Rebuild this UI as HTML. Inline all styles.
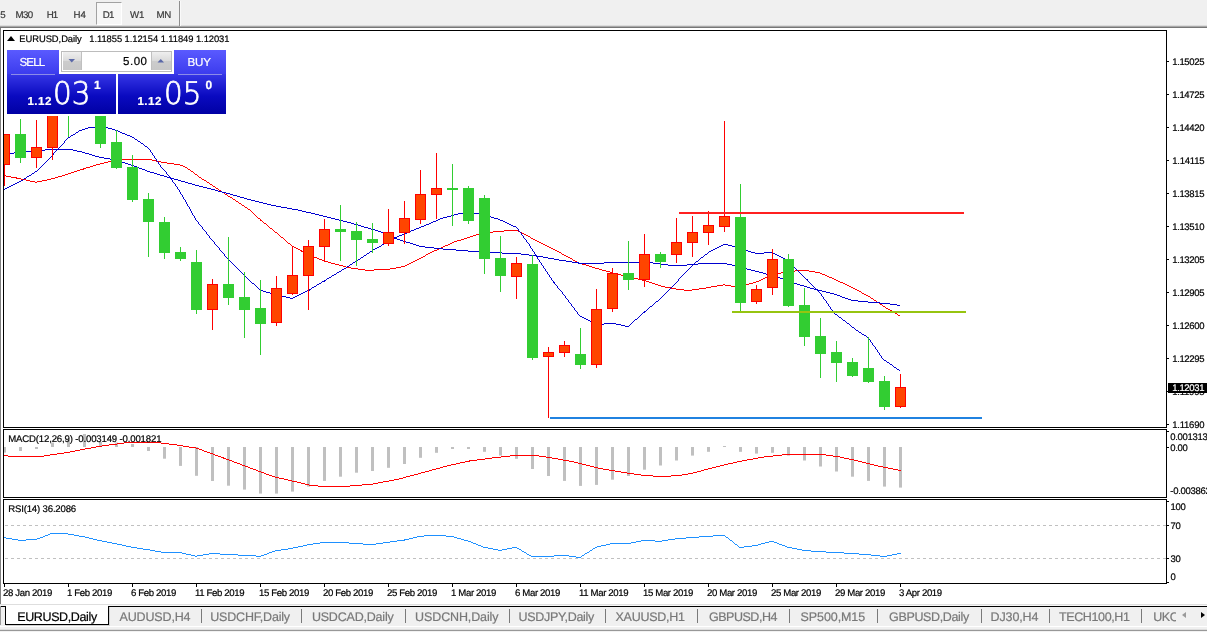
<!DOCTYPE html>
<html><head><meta charset="utf-8"><title>EURUSD,Daily</title>
<style>
html,body{margin:0;padding:0;background:#fff;}
body{width:1207px;height:632px;position:relative;overflow:hidden;font-family:"Liberation Sans",sans-serif;font-size:9.5px;color:#000;text-rendering:geometricPrecision;}
div,span{position:absolute;white-space:nowrap;}
.t{-webkit-text-stroke:0.2px currentColor;}
#tbar{left:0;top:0;width:1207px;height:26px;background:#f0f0f0;}
#tl1{left:0;top:25px;width:1207px;height:1px;background:#dcdcdc;}
#tl2{left:0;top:26px;width:1207px;height:1px;background:#a8a8a8;}
#tl3{left:0;top:27px;width:1207px;height:1px;background:#767676;}
#lgray{left:0;top:28px;width:1px;height:576px;background:#808080;}
#d1{left:96px;top:2px;width:24px;height:21px;border:1px solid #fff;border-left-color:#a2a2a2;border-top-color:#a2a2a2;background:#f7f7f7;}
#vsep{left:179px;top:1px;width:1px;height:25px;background:#8e8e8e;border-right:1px solid #fafafa;}
#tri{left:6.5px;top:36.4px;width:0;height:0;border-left:4.1px solid transparent;border-right:4.1px solid transparent;border-bottom:5px solid #000;}
#bbar{left:0;top:604px;width:1207px;height:28px;background:#f0f0f0;}
#bl0{left:0;top:604px;width:1207px;height:1px;background:#dedede;}
#bl00{left:0;top:605px;width:1207px;height:1px;background:#f6f6f6;}
#bl1{left:0;top:606px;width:1207px;height:1px;background:#000;}
#bl2{left:0;top:625.5px;width:1207px;height:1.6px;background:#fff;}
#bl3{left:0;top:629px;width:1207px;height:3px;background:linear-gradient(#dedede 0,#dedede 33%,#989898 33%,#989898 67%,#f2f2f2 67%);}
#atab{left:6px;top:605px;width:102px;height:19px;background:#fff;}
.tabl{background:#000;}
#ledge{left:0;top:606px;width:1px;height:19px;background:#9a9a9a;}
.sp{top:609px;width:1px;height:14px;background:#7a7a7a;}
#arl{left:1181.5px;top:611.5px;width:0;height:0;border-top:3.5px solid transparent;border-bottom:3.5px solid transparent;border-right:4px solid #9a9a9a;}
#arr{left:1200.8px;top:611.5px;width:0;height:0;border-top:3.5px solid transparent;border-bottom:3.5px solid transparent;border-left:4px solid #000;}
#ukc{left:1153.2px;top:609px;width:23px;height:16px;overflow:hidden;}
#pw{left:4px;top:47px;width:225px;height:69px;background:#fff;}
#sell{left:7px;top:50px;width:52px;height:24px;background:linear-gradient(#5a5aff,#3c3cee);}
#buy{left:174px;top:50px;width:52px;height:24px;background:linear-gradient(#5a5aff,#3c3cee);}
#sl{left:7px;top:74px;width:109px;height:40px;background:linear-gradient(#3636e6,#0a0ac0 55%,#0000a4);}
#bl{left:118px;top:74px;width:108px;height:40px;background:linear-gradient(#3636e6,#0a0ac0 55%,#0000a4);}
.bg{top:74px;color:#fff;font-family:"DejaVu Sans Light","Liberation Sans",sans-serif;font-size:31px;line-height:40px;transform:scaleX(0.95);transform-origin:0 0;-webkit-text-stroke:0.75px #fff;}
.ul{height:1px;background:#8c8ce8;top:74px;}
#spin{left:61px;top:50.5px;width:109px;height:19px;border:1px solid #bcbcbc;background:#fff;}
.sb{top:52px;width:18px;height:18px;background:linear-gradient(#efefef,#dadada 48%,#cccccc 52%,#c8c8c8);border-right:1px solid #c0c0c0;}
#pbox{left:1168px;top:383px;width:39px;height:10px;background:#000;}
</style></head><body>
<div id="tbar"></div><div id="tl1"></div><div id="tl2"></div><div id="tl3"></div><div id="lgray"></div>
<div id="d1"></div><div id="vsep"></div>
<svg id="ch" width="1207" height="632" viewBox="0 0 1207 632" style="position:absolute;left:0;top:0">
<defs><clipPath id="cp"><rect x="4" y="31" width="1162" height="396"/></clipPath></defs>
<g clip-path="url(#cp)">
<path fill="#ff0000" shape-rendering="crispEdges" d="M120 159h32v1h-32zM114 160h6v1h-6zM152 160h4v1h-4zM108 161h6v1h-6zM156 161h5v1h-5zM104 162h4v1h-4zM161 162h6v1h-6zM100 163h4v1h-4zM167 163h7v1h-7zM96 164h4v1h-4zM174 164h6v1h-6zM93 165h3v1h-3zM180 165h3v1h-3zM90 166h3v1h-3zM183 166h2v1h-2zM86 167h4v1h-4zM185 167h2v1h-2zM83 168h3v1h-3zM187 168h1v1h-1zM80 169h4v1h-4zM188 169h2v1h-2zM77 170h3v1h-3zM190 170h1v1h-1zM74 171h3v1h-3zM191 171h2v1h-2zM71 172h3v1h-3zM193 172h1v1h-1zM68 173h3v1h-3zM194 173h1v1h-1zM65 174h3v1h-3zM195 174h2v1h-2zM4 175h2v1h-2zM62 175h3v1h-3zM197 175h1v1h-1zM6 176h5v1h-5zM58 176h4v1h-4zM198 176h1v1h-1zM11 177h6v1h-6zM55 177h3v1h-3zM199 177h2v1h-2zM16 178h5v1h-5zM51 178h4v1h-4zM201 178h1v1h-1zM21 179h5v1h-5zM47 179h4v1h-4zM202 179h2v1h-2zM26 180h4v1h-4zM42 180h5v1h-5zM204 180h2v1h-2zM30 181h5v1h-5zM37 181h5v1h-5zM206 181h1v1h-1zM35 182h2v1h-2zM207 182h2v1h-2zM209 183h1v1h-1zM210 184h2v1h-2zM212 185h1v1h-1zM213 186h2v1h-2zM215 187h1v1h-1zM216 188h2v1h-2zM218 189h1v1h-1zM219 190h2v1h-2zM221 191h1v1h-1zM222 192h2v1h-2zM224 193h1v1h-1zM225 194h2v1h-2zM227 195h1v1h-1zM228 196h2v1h-2zM230 197h2v1h-2zM232 198h1v1h-1zM233 199h2v1h-2zM235 200h1v1h-1zM236 201h2v1h-2zM238 202h1v1h-1zM239 203h2v1h-2zM241 204h1v1h-1zM242 205h2v1h-2zM244 206h1v1h-1zM245 207h2v1h-2zM247 208h1v1h-1zM248 209h2v1h-2zM250 210h1v1h-1zM251 211h1v1h-1zM252 212h1v1h-1zM253 213h1v1h-1zM254 214h1v1h-1zM255 215h1v1h-1zM256 216h1v1h-1zM257 217h1v1h-1zM258 218h2v1h-2zM260 219h1v1h-1zM260 220h2v1h-2zM262 221h1v1h-1zM263 222h1v1h-1zM264 223h2v1h-2zM266 224h1v1h-1zM267 225h1v1h-1zM268 226h1v1h-1zM269 227h1v1h-1zM270 228h2v1h-2zM272 229h1v1h-1zM273 230h1v1h-1zM504 230h14v1h-14zM274 231h1v1h-1zM493 231h11v1h-11zM518 231h2v1h-2zM275 232h2v1h-2zM486 232h7v1h-7zM520 232h2v1h-2zM277 233h1v1h-1zM479 233h7v1h-7zM522 233h2v1h-2zM278 234h1v1h-1zM476 234h4v1h-4zM524 234h2v1h-2zM279 235h1v1h-1zM473 235h3v1h-3zM526 235h2v1h-2zM280 236h1v1h-1zM470 236h3v1h-3zM528 236h2v1h-2zM281 237h2v1h-2zM467 237h3v1h-3zM530 237h1v1h-1zM283 238h1v1h-1zM464 238h3v1h-3zM531 238h2v1h-2zM284 239h1v1h-1zM461 239h3v1h-3zM533 239h2v1h-2zM285 240h1v1h-1zM457 240h4v1h-4zM535 240h2v1h-2zM286 241h1v1h-1zM454 241h3v1h-3zM537 241h2v1h-2zM287 242h1v1h-1zM452 242h2v1h-2zM539 242h2v1h-2zM288 243h2v1h-2zM450 243h2v1h-2zM541 243h2v1h-2zM290 244h1v1h-1zM448 244h2v1h-2zM543 244h2v1h-2zM291 245h1v1h-1zM445 245h3v1h-3zM545 245h2v1h-2zM292 246h2v1h-2zM443 246h2v1h-2zM547 246h2v1h-2zM294 247h2v1h-2zM441 247h2v1h-2zM549 247h2v1h-2zM296 248h2v1h-2zM439 248h2v1h-2zM551 248h2v1h-2zM298 249h2v1h-2zM437 249h2v1h-2zM553 249h2v1h-2zM300 250h2v1h-2zM434 250h3v1h-3zM555 250h2v1h-2zM301 251h3v1h-3zM432 251h2v1h-2zM557 251h2v1h-2zM304 252h2v1h-2zM430 252h2v1h-2zM559 252h2v1h-2zM306 253h2v1h-2zM428 253h2v1h-2zM561 253h1v1h-1zM308 254h2v1h-2zM426 254h2v1h-2zM562 254h2v1h-2zM310 255h2v1h-2zM425 255h1v1h-1zM564 255h2v1h-2zM312 256h2v1h-2zM423 256h2v1h-2zM566 256h2v1h-2zM314 257h3v1h-3zM421 257h2v1h-2zM568 257h2v1h-2zM317 258h2v1h-2zM419 258h2v1h-2zM570 258h2v1h-2zM319 259h3v1h-3zM417 259h2v1h-2zM572 259h1v1h-1zM322 260h2v1h-2zM415 260h2v1h-2zM573 260h2v1h-2zM324 261h4v1h-4zM413 261h2v1h-2zM575 261h2v1h-2zM328 262h3v1h-3zM411 262h2v1h-2zM577 262h2v1h-2zM331 263h4v1h-4zM409 263h2v1h-2zM578 263h4v1h-4zM335 264h4v1h-4zM407 264h2v1h-2zM582 264h4v1h-4zM339 265h4v1h-4zM405 265h2v1h-2zM586 265h3v1h-3zM343 266h3v1h-3zM401 266h4v1h-4zM589 266h3v1h-3zM346 267h5v1h-5zM396 267h5v1h-5zM592 267h3v1h-3zM351 268h7v1h-7zM390 268h6v1h-6zM595 268h4v1h-4zM358 269h7v1h-7zM374 269h16v1h-16zM599 269h3v1h-3zM365 270h9v1h-9zM602 270h4v1h-4zM795 270h14v1h-14zM606 271h4v1h-4zM788 271h7v1h-7zM809 271h6v1h-6zM610 272h3v1h-3zM781 272h7v1h-7zM815 272h5v1h-5zM613 273h4v1h-4zM777 273h4v1h-4zM820 273h2v1h-2zM617 274h4v1h-4zM774 274h3v1h-3zM822 274h3v1h-3zM621 275h5v1h-5zM770 275h4v1h-4zM825 275h2v1h-2zM626 276h4v1h-4zM768 276h2v1h-2zM827 276h2v1h-2zM630 277h4v1h-4zM765 277h3v1h-3zM829 277h3v1h-3zM634 278h4v1h-4zM763 278h2v1h-2zM832 278h2v1h-2zM638 279h4v1h-4zM761 279h2v1h-2zM834 279h2v1h-2zM642 280h4v1h-4zM759 280h2v1h-2zM836 280h2v1h-2zM646 281h3v1h-3zM756 281h3v1h-3zM838 281h2v1h-2zM649 282h3v1h-3zM753 282h3v1h-3zM840 282h3v1h-3zM652 283h3v1h-3zM749 283h4v1h-4zM843 283h2v1h-2zM655 284h3v1h-3zM723 284h2v1h-2zM746 284h3v1h-3zM845 284h2v1h-2zM658 285h3v1h-3zM717 285h6v1h-6zM725 285h6v1h-6zM735 285h11v1h-11zM847 285h2v1h-2zM661 286h4v1h-4zM711 286h6v1h-6zM731 286h4v1h-4zM849 286h2v1h-2zM665 287h6v1h-6zM706 287h5v1h-5zM851 287h2v1h-2zM671 288h5v1h-5zM699 288h7v1h-7zM853 288h2v1h-2zM676 289h8v1h-8zM692 289h7v1h-7zM855 289h2v1h-2zM684 290h8v1h-8zM857 290h2v1h-2zM859 291h2v1h-2zM861 292h1v1h-1zM862 293h2v1h-2zM864 294h2v1h-2zM866 295h2v1h-2zM868 296h2v1h-2zM870 297h1v1h-1zM871 298h2v1h-2zM873 299h1v1h-1zM874 300h2v1h-2zM876 301h1v1h-1zM877 302h2v1h-2zM879 303h1v1h-1zM880 304h2v1h-2zM882 305h1v1h-1zM883 306h2v1h-2zM885 307h1v1h-1zM886 308h2v1h-2zM888 309h2v1h-2zM890 310h2v1h-2zM892 311h1v1h-1zM893 312h2v1h-2zM895 313h2v1h-2zM897 314h1v1h-1zM898 315h2v1h-2z"/>
<path fill="#0000d0" shape-rendering="crispEdges" d="M45 149h28v1h-28zM31 150h14v1h-14zM73 150h4v1h-4zM21 151h10v1h-10zM77 151h5v1h-5zM14 152h7v1h-7zM82 152h3v1h-3zM7 153h7v1h-7zM85 153h4v1h-4zM4 154h3v1h-3zM89 154h3v1h-3zM92 155h3v1h-3zM95 156h4v1h-4zM99 157h5v1h-5zM104 158h6v1h-6zM110 159h4v1h-4zM114 160h4v1h-4zM118 161h4v1h-4zM122 162h3v1h-3zM125 163h3v1h-3zM128 164h3v1h-3zM131 165h3v1h-3zM134 166h3v1h-3zM137 167h2v1h-2zM139 168h3v1h-3zM142 169h3v1h-3zM145 170h2v1h-2zM147 171h3v1h-3zM150 172h4v1h-4zM154 173h3v1h-3zM157 174h3v1h-3zM160 175h4v1h-4zM164 176h3v1h-3zM167 177h4v1h-4zM171 178h3v1h-3zM174 179h4v1h-4zM178 180h3v1h-3zM181 181h4v1h-4zM185 182h3v1h-3zM188 183h4v1h-4zM192 184h3v1h-3zM195 185h4v1h-4zM199 186h4v1h-4zM203 187h4v1h-4zM207 188h4v1h-4zM211 189h4v1h-4zM215 190h3v1h-3zM218 191h4v1h-4zM222 192h4v1h-4zM226 193h4v1h-4zM230 194h3v1h-3zM233 195h4v1h-4zM237 196h3v1h-3zM240 197h4v1h-4zM244 198h3v1h-3zM247 199h4v1h-4zM251 200h4v1h-4zM255 201h4v1h-4zM259 202h4v1h-4zM263 203h4v1h-4zM267 204h4v1h-4zM271 205h5v1h-5zM276 206h5v1h-5zM281 207h6v1h-6zM287 208h5v1h-5zM292 209h6v1h-6zM298 210h4v1h-4zM302 211h4v1h-4zM306 212h5v1h-5zM311 213h4v1h-4zM315 214h4v1h-4zM319 215h4v1h-4zM323 216h4v1h-4zM327 217h4v1h-4zM331 218h4v1h-4zM335 219h4v1h-4zM339 220h4v1h-4zM343 221h4v1h-4zM347 222h4v1h-4zM351 223h3v1h-3zM354 224h4v1h-4zM358 225h3v1h-3zM361 226h3v1h-3zM364 227h4v1h-4zM368 228h3v1h-3zM371 229h4v1h-4zM375 230h3v1h-3zM378 231h3v1h-3zM381 232h3v1h-3zM384 233h2v1h-2zM386 234h2v1h-2zM388 235h2v1h-2zM390 236h3v1h-3zM393 237h2v1h-2zM395 238h2v1h-2zM397 239h3v1h-3zM400 240h3v1h-3zM403 241h3v1h-3zM406 242h4v1h-4zM410 243h3v1h-3zM413 244h3v1h-3zM416 245h3v1h-3zM419 246h6v1h-6zM425 247h9v1h-9zM434 248h9v1h-9zM443 249h13v1h-13zM456 250h12v1h-12zM468 251h13v1h-13zM481 252h21v1h-21zM502 253h19v1h-19zM521 254h8v1h-8zM529 255h8v1h-8zM537 256h6v1h-6zM543 257h5v1h-5zM548 258h6v1h-6zM554 259h5v1h-5zM559 260h7v1h-7zM566 261h6v1h-6zM572 262h7v1h-7zM604 262h49v1h-49zM578 263h26v1h-26zM653 263h8v1h-8zM698 263h29v1h-29zM661 264h7v1h-7zM687 264h11v1h-11zM727 264h5v1h-5zM668 265h19v1h-19zM732 265h5v1h-5zM737 266h3v1h-3zM740 267h3v1h-3zM743 268h4v1h-4zM747 269h4v1h-4zM751 270h4v1h-4zM755 271h4v1h-4zM759 272h4v1h-4zM763 273h3v1h-3zM766 274h4v1h-4zM770 275h3v1h-3zM773 276h4v1h-4zM777 277h3v1h-3zM780 278h3v1h-3zM783 279h3v1h-3zM786 280h2v1h-2zM788 281h3v1h-3zM791 282h3v1h-3zM794 283h3v1h-3zM797 284h3v1h-3zM800 285h4v1h-4zM804 286h3v1h-3zM807 287h3v1h-3zM810 288h4v1h-4zM814 289h4v1h-4zM818 290h4v1h-4zM822 291h4v1h-4zM826 292h4v1h-4zM830 293h4v1h-4zM834 294h3v1h-3zM837 295h3v1h-3zM840 296h2v1h-2zM842 297h3v1h-3zM845 298h3v1h-3zM848 299h3v1h-3zM851 300h7v1h-7zM858 301h10v1h-10zM868 302h12v1h-12zM880 303h10v1h-10zM890 304h7v1h-7zM897 305h3v1h-3z"/>
<path fill="#0000d0" shape-rendering="crispEdges" d="M88 127h20v1h-20zM85 128h3v1h-3zM108 128h4v1h-4zM82 129h3v1h-3zM112 129h3v1h-3zM79 130h3v1h-3zM115 130h3v1h-3zM78 131h1v1h-1zM118 131h2v1h-2zM76 132h2v1h-2zM120 132h2v1h-2zM75 133h1v1h-1zM122 133h3v1h-3zM73 134h2v1h-2zM125 134h2v1h-2zM71 135h2v1h-2zM127 135h3v1h-3zM70 136h1v1h-1zM130 136h2v1h-2zM68 137h2v1h-2zM132 137h2v1h-2zM67 138h1v1h-1zM134 138h1v1h-1zM66 139h1v1h-1zM135 139h2v1h-2zM65 140h1v1h-1zM137 140h1v1h-1zM64 141h1v1h-1zM138 141h2v1h-2zM64 142h1v1h-1zM140 142h1v1h-1zM63 143h1v1h-1zM141 143h2v1h-2zM62 144h1v1h-1zM143 144h1v1h-1zM61 145h1v1h-1zM144 145h1v1h-1zM60 146h1v1h-1zM145 146h2v1h-2zM59 147h1v1h-1zM147 147h1v1h-1zM58 148h1v1h-1zM148 148h1v1h-1zM57 149h1v1h-1zM149 149h1v1h-1zM56 150h1v1h-1zM150 150h1v1h-1zM55 151h1v1h-1zM150 151h1v1h-1zM54 152h1v1h-1zM151 152h1v1h-1zM53 153h1v1h-1zM152 153h1v1h-1zM53 154h1v1h-1zM152 154h1v1h-1zM52 155h1v1h-1zM153 155h1v1h-1zM51 156h1v1h-1zM154 156h1v1h-1zM50 157h1v1h-1zM154 157h1v1h-1zM49 158h1v1h-1zM155 158h1v1h-1zM48 159h1v1h-1zM156 159h1v1h-1zM47 160h1v1h-1zM156 160h1v1h-1zM46 161h1v1h-1zM157 161h1v1h-1zM45 162h1v1h-1zM158 162h1v1h-1zM44 163h1v1h-1zM158 163h1v1h-1zM43 164h1v1h-1zM159 164h1v1h-1zM42 165h1v1h-1zM160 165h1v1h-1zM41 166h1v1h-1zM160 166h1v1h-1zM40 167h1v1h-1zM161 167h1v1h-1zM39 168h1v1h-1zM162 168h1v1h-1zM38 169h1v1h-1zM163 169h1v1h-1zM37 170h1v1h-1zM164 170h1v1h-1zM35 171h2v1h-2zM165 171h1v1h-1zM34 172h1v1h-1zM166 172h1v1h-1zM32 173h2v1h-2zM166 173h1v1h-1zM31 174h1v1h-1zM167 174h1v1h-1zM29 175h2v1h-2zM168 175h1v1h-1zM27 176h2v1h-2zM169 176h1v1h-1zM26 177h1v1h-1zM170 177h1v1h-1zM24 178h2v1h-2zM170 178h1v1h-1zM23 179h1v1h-1zM171 179h1v1h-1zM21 180h2v1h-2zM172 180h1v1h-1zM19 181h2v1h-2zM172 181h1v1h-1zM17 182h2v1h-2zM173 182h1v1h-1zM15 183h2v1h-2zM174 183h1v1h-1zM13 184h2v1h-2zM175 184h1v1h-1zM11 185h2v1h-2zM175 185h1v1h-1zM9 186h2v1h-2zM176 186h1v1h-1zM7 187h2v1h-2zM177 187h1v1h-1zM5 188h2v1h-2zM177 188h1v1h-1zM4 189h1v1h-1zM178 189h1v1h-1zM179 190h1v1h-1zM179 191h1v1h-1zM180 192h1v1h-1zM180 193h1v1h-1zM181 194h1v1h-1zM182 195h1v1h-1zM182 196h1v1h-1zM183 197h1v1h-1zM183 198h1v1h-1zM184 199h1v1h-1zM185 200h1v1h-1zM185 201h1v1h-1zM186 202h1v1h-1zM186 203h1v1h-1zM187 204h1v1h-1zM187 205h1v1h-1zM188 206h1v1h-1zM189 207h1v1h-1zM189 208h1v1h-1zM190 209h1v1h-1zM190 210h1v1h-1zM191 211h1v1h-1zM191 212h1v1h-1zM192 213h1v1h-1zM458 213h24v1h-24zM192 214h1v1h-1zM454 214h4v1h-4zM482 214h3v1h-3zM193 215h1v1h-1zM451 215h3v1h-3zM485 215h3v1h-3zM194 216h1v1h-1zM447 216h4v1h-4zM488 216h3v1h-3zM194 217h1v1h-1zM443 217h4v1h-4zM491 217h3v1h-3zM195 218h1v1h-1zM440 218h3v1h-3zM494 218h4v1h-4zM195 219h1v1h-1zM438 219h2v1h-2zM498 219h2v1h-2zM196 220h1v1h-1zM436 220h2v1h-2zM500 220h3v1h-3zM197 221h1v1h-1zM433 221h3v1h-3zM503 221h2v1h-2zM198 222h1v1h-1zM431 222h2v1h-2zM505 222h2v1h-2zM198 223h1v1h-1zM429 223h2v1h-2zM507 223h2v1h-2zM199 224h1v1h-1zM426 224h3v1h-3zM509 224h2v1h-2zM200 225h1v1h-1zM424 225h2v1h-2zM511 225h2v1h-2zM201 226h1v1h-1zM421 226h3v1h-3zM513 226h3v1h-3zM202 227h1v1h-1zM419 227h2v1h-2zM516 227h1v1h-1zM202 228h1v1h-1zM416 228h3v1h-3zM517 228h1v1h-1zM203 229h1v1h-1zM414 229h2v1h-2zM518 229h1v1h-1zM204 230h1v1h-1zM411 230h3v1h-3zM518 230h1v1h-1zM205 231h1v1h-1zM409 231h2v1h-2zM519 231h1v1h-1zM206 232h1v1h-1zM407 232h2v1h-2zM520 232h1v1h-1zM206 233h1v1h-1zM404 233h3v1h-3zM521 233h1v1h-1zM207 234h1v1h-1zM402 234h2v1h-2zM521 234h1v1h-1zM208 235h1v1h-1zM399 235h3v1h-3zM522 235h1v1h-1zM209 236h1v1h-1zM397 236h2v1h-2zM523 236h1v1h-1zM209 237h1v1h-1zM395 237h2v1h-2zM523 237h1v1h-1zM210 238h1v1h-1zM393 238h2v1h-2zM524 238h1v1h-1zM211 239h1v1h-1zM392 239h1v1h-1zM525 239h1v1h-1zM212 240h1v1h-1zM390 240h2v1h-2zM526 240h1v1h-1zM213 241h1v1h-1zM388 241h2v1h-2zM526 241h1v1h-1zM214 242h1v1h-1zM386 242h2v1h-2zM527 242h1v1h-1zM214 243h1v1h-1zM384 243h2v1h-2zM528 243h1v1h-1zM215 244h1v1h-1zM382 244h2v1h-2zM529 244h1v1h-1zM723 244h5v1h-5zM216 245h1v1h-1zM381 245h1v1h-1zM529 245h1v1h-1zM721 245h2v1h-2zM728 245h4v1h-4zM217 246h1v1h-1zM379 246h2v1h-2zM530 246h1v1h-1zM719 246h2v1h-2zM732 246h4v1h-4zM218 247h1v1h-1zM377 247h2v1h-2zM530 247h1v1h-1zM717 247h2v1h-2zM736 247h3v1h-3zM219 248h1v1h-1zM375 248h2v1h-2zM531 248h1v1h-1zM715 248h2v1h-2zM739 248h3v1h-3zM219 249h1v1h-1zM373 249h2v1h-2zM532 249h1v1h-1zM713 249h2v1h-2zM742 249h3v1h-3zM220 250h1v1h-1zM372 250h1v1h-1zM532 250h1v1h-1zM711 250h2v1h-2zM745 250h3v1h-3zM221 251h1v1h-1zM370 251h2v1h-2zM533 251h1v1h-1zM709 251h2v1h-2zM748 251h3v1h-3zM222 252h1v1h-1zM369 252h1v1h-1zM534 252h1v1h-1zM708 252h1v1h-1zM751 252h4v1h-4zM764 252h9v1h-9zM223 253h1v1h-1zM367 253h2v1h-2zM534 253h1v1h-1zM707 253h1v1h-1zM755 253h9v1h-9zM773 253h2v1h-2zM224 254h1v1h-1zM366 254h1v1h-1zM535 254h1v1h-1zM705 254h2v1h-2zM775 254h2v1h-2zM224 255h1v1h-1zM364 255h2v1h-2zM536 255h1v1h-1zM704 255h1v1h-1zM777 255h2v1h-2zM225 256h1v1h-1zM363 256h1v1h-1zM536 256h1v1h-1zM703 256h1v1h-1zM779 256h2v1h-2zM226 257h1v1h-1zM361 257h2v1h-2zM537 257h1v1h-1zM701 257h2v1h-2zM781 257h2v1h-2zM227 258h1v1h-1zM360 258h1v1h-1zM537 258h1v1h-1zM700 258h1v1h-1zM783 258h2v1h-2zM228 259h1v1h-1zM358 259h2v1h-2zM538 259h1v1h-1zM699 259h1v1h-1zM785 259h1v1h-1zM229 260h1v1h-1zM357 260h1v1h-1zM539 260h1v1h-1zM698 260h1v1h-1zM786 260h1v1h-1zM230 261h1v1h-1zM355 261h2v1h-2zM539 261h1v1h-1zM696 261h2v1h-2zM787 261h1v1h-1zM231 262h1v1h-1zM353 262h2v1h-2zM540 262h1v1h-1zM695 262h1v1h-1zM788 262h2v1h-2zM232 263h1v1h-1zM352 263h1v1h-1zM541 263h1v1h-1zM694 263h1v1h-1zM790 263h1v1h-1zM233 264h1v1h-1zM350 264h2v1h-2zM541 264h1v1h-1zM693 264h1v1h-1zM791 264h1v1h-1zM234 265h1v1h-1zM349 265h1v1h-1zM542 265h1v1h-1zM692 265h1v1h-1zM792 265h1v1h-1zM235 266h1v1h-1zM347 266h2v1h-2zM543 266h1v1h-1zM691 266h1v1h-1zM793 266h1v1h-1zM236 267h1v1h-1zM346 267h1v1h-1zM543 267h1v1h-1zM690 267h1v1h-1zM794 267h1v1h-1zM237 268h1v1h-1zM344 268h2v1h-2zM544 268h1v1h-1zM689 268h1v1h-1zM795 268h1v1h-1zM238 269h1v1h-1zM342 269h2v1h-2zM545 269h1v1h-1zM688 269h1v1h-1zM796 269h1v1h-1zM239 270h1v1h-1zM341 270h1v1h-1zM545 270h1v1h-1zM687 270h1v1h-1zM797 270h1v1h-1zM240 271h1v1h-1zM339 271h2v1h-2zM546 271h1v1h-1zM686 271h1v1h-1zM798 271h1v1h-1zM241 272h1v1h-1zM337 272h2v1h-2zM547 272h1v1h-1zM685 272h1v1h-1zM799 272h1v1h-1zM242 273h1v1h-1zM336 273h1v1h-1zM547 273h1v1h-1zM684 273h1v1h-1zM800 273h1v1h-1zM243 274h1v1h-1zM334 274h2v1h-2zM548 274h1v1h-1zM683 274h1v1h-1zM801 274h1v1h-1zM244 275h1v1h-1zM332 275h2v1h-2zM549 275h1v1h-1zM682 275h1v1h-1zM802 275h1v1h-1zM244 276h2v1h-2zM331 276h1v1h-1zM549 276h1v1h-1zM681 276h1v1h-1zM803 276h1v1h-1zM246 277h1v1h-1zM329 277h2v1h-2zM550 277h1v1h-1zM680 277h1v1h-1zM804 277h1v1h-1zM247 278h1v1h-1zM327 278h2v1h-2zM551 278h1v1h-1zM679 278h1v1h-1zM805 278h1v1h-1zM248 279h1v1h-1zM326 279h1v1h-1zM551 279h1v1h-1zM678 279h1v1h-1zM806 279h2v1h-2zM249 280h1v1h-1zM324 280h2v1h-2zM552 280h1v1h-1zM678 280h1v1h-1zM807 280h1v1h-1zM250 281h1v1h-1zM322 281h3v1h-3zM553 281h1v1h-1zM677 281h1v1h-1zM808 281h1v1h-1zM251 282h1v1h-1zM321 282h1v1h-1zM553 282h2v1h-2zM676 282h1v1h-1zM809 282h1v1h-1zM252 283h2v1h-2zM319 283h2v1h-2zM554 283h1v1h-1zM675 283h1v1h-1zM810 283h1v1h-1zM254 284h1v1h-1zM317 284h2v1h-2zM555 284h1v1h-1zM674 284h1v1h-1zM811 284h1v1h-1zM255 285h1v1h-1zM316 285h1v1h-1zM556 285h1v1h-1zM673 285h1v1h-1zM812 285h1v1h-1zM256 286h1v1h-1zM314 286h2v1h-2zM557 286h1v1h-1zM672 286h1v1h-1zM813 286h1v1h-1zM257 287h1v1h-1zM312 287h2v1h-2zM557 287h1v1h-1zM671 287h1v1h-1zM814 287h1v1h-1zM258 288h1v1h-1zM311 288h1v1h-1zM558 288h1v1h-1zM670 288h1v1h-1zM815 288h1v1h-1zM259 289h1v1h-1zM309 289h2v1h-2zM559 289h1v1h-1zM669 289h1v1h-1zM816 289h1v1h-1zM260 290h3v1h-3zM307 290h3v1h-3zM560 290h1v1h-1zM668 290h1v1h-1zM817 290h1v1h-1zM263 291h3v1h-3zM305 291h2v1h-2zM561 291h1v1h-1zM667 291h1v1h-1zM818 291h1v1h-1zM266 292h4v1h-4zM303 292h2v1h-2zM562 292h1v1h-1zM666 292h1v1h-1zM819 292h1v1h-1zM270 293h3v1h-3zM301 293h2v1h-2zM562 293h1v1h-1zM665 293h1v1h-1zM820 293h1v1h-1zM273 294h4v1h-4zM299 294h2v1h-2zM563 294h1v1h-1zM664 294h1v1h-1zM821 294h1v1h-1zM277 295h5v1h-5zM297 295h2v1h-2zM564 295h1v1h-1zM663 295h1v1h-1zM821 295h1v1h-1zM282 296h4v1h-4zM295 296h2v1h-2zM565 296h1v1h-1zM662 296h1v1h-1zM822 296h1v1h-1zM286 297h4v1h-4zM293 297h2v1h-2zM565 297h1v1h-1zM661 297h1v1h-1zM823 297h1v1h-1zM290 298h3v1h-3zM566 298h1v1h-1zM660 298h1v1h-1zM823 298h1v1h-1zM567 299h1v1h-1zM659 299h1v1h-1zM824 299h1v1h-1zM568 300h1v1h-1zM658 300h1v1h-1zM825 300h1v1h-1zM568 301h1v1h-1zM656 301h2v1h-2zM826 301h1v1h-1zM569 302h1v1h-1zM655 302h1v1h-1zM826 302h1v1h-1zM570 303h1v1h-1zM654 303h1v1h-1zM827 303h1v1h-1zM571 304h1v1h-1zM653 304h1v1h-1zM828 304h1v1h-1zM571 305h1v1h-1zM652 305h1v1h-1zM828 305h1v1h-1zM572 306h1v1h-1zM650 306h2v1h-2zM829 306h1v1h-1zM573 307h1v1h-1zM649 307h1v1h-1zM830 307h1v1h-1zM574 308h1v1h-1zM648 308h1v1h-1zM830 308h1v1h-1zM574 309h1v1h-1zM647 309h1v1h-1zM831 309h1v1h-1zM575 310h1v1h-1zM646 310h1v1h-1zM832 310h1v1h-1zM576 311h1v1h-1zM644 311h2v1h-2zM833 311h1v1h-1zM577 312h1v1h-1zM643 312h2v1h-2zM833 312h1v1h-1zM577 313h1v1h-1zM642 313h1v1h-1zM834 313h1v1h-1zM578 314h1v1h-1zM641 314h1v1h-1zM835 314h2v1h-2zM579 315h1v1h-1zM640 315h1v1h-1zM837 315h1v1h-1zM580 316h2v1h-2zM639 316h1v1h-1zM838 316h1v1h-1zM582 317h2v1h-2zM638 317h1v1h-1zM839 317h2v1h-2zM584 318h2v1h-2zM637 318h1v1h-1zM841 318h1v1h-1zM586 319h2v1h-2zM635 319h2v1h-2zM842 319h1v1h-1zM588 320h2v1h-2zM634 320h1v1h-1zM843 320h2v1h-2zM590 321h2v1h-2zM633 321h1v1h-1zM845 321h1v1h-1zM592 322h4v1h-4zM632 322h1v1h-1zM846 322h1v1h-1zM596 323h5v1h-5zM604 323h12v1h-12zM631 323h1v1h-1zM847 323h2v1h-2zM601 324h3v1h-3zM616 324h5v1h-5zM630 324h1v1h-1zM849 324h1v1h-1zM621 325h4v1h-4zM629 325h1v1h-1zM850 325h1v1h-1zM625 326h4v1h-4zM851 326h1v1h-1zM852 327h2v1h-2zM854 328h1v1h-1zM855 329h1v1h-1zM856 330h2v1h-2zM858 331h1v1h-1zM859 332h2v1h-2zM861 333h1v1h-1zM862 334h2v1h-2zM864 335h2v1h-2zM866 336h1v1h-1zM867 337h2v1h-2zM868 338h1v1h-1zM869 339h1v1h-1zM870 340h1v1h-1zM870 341h1v1h-1zM871 342h1v1h-1zM872 343h1v1h-1zM872 344h1v1h-1zM873 345h1v1h-1zM874 346h1v1h-1zM875 347h1v1h-1zM875 348h1v1h-1zM876 349h1v1h-1zM877 350h1v1h-1zM877 351h1v1h-1zM878 352h1v1h-1zM879 353h1v1h-1zM879 354h1v1h-1zM880 355h1v1h-1zM881 356h1v1h-1zM881 357h1v1h-1zM882 358h1v1h-1zM883 359h1v1h-1zM884 360h2v1h-2zM886 361h1v1h-1zM887 362h2v1h-2zM889 363h1v1h-1zM890 364h2v1h-2zM892 365h1v1h-1zM893 366h1v1h-1zM894 367h2v1h-2zM896 368h1v1h-1zM897 369h2v1h-2zM899 370h1v1h-1z"/>
<rect x="4" y="134.0" width="1" height="52.0" fill="#FF0000"/>
<rect x="-0.5" y="134.5" width="10" height="30.0" fill="#FF4500" stroke="#FF0000" stroke-width="1"/>
<rect x="20" y="119.0" width="1" height="44.0" fill="#32CD32"/>
<rect x="15" y="134.0" width="11" height="24.0" fill="#32CD32"/>
<rect x="36" y="120.0" width="1" height="48.0" fill="#FF0000"/>
<rect x="31.5" y="147.5" width="10" height="10.0" fill="#FF4500" stroke="#FF0000" stroke-width="1"/>
<rect x="52" y="100.0" width="1" height="60.0" fill="#FF0000"/>
<rect x="47.5" y="100.5" width="10" height="47.0" fill="#FF4500" stroke="#FF0000" stroke-width="1"/>
<rect x="68" y="90.0" width="1" height="47.0" fill="#32CD32"/>
<rect x="63" y="92.0" width="11" height="18.0" fill="#32CD32"/>
<rect x="84" y="70.0" width="1" height="34.0" fill="#32CD32"/>
<rect x="79" y="75.0" width="11" height="25.0" fill="#32CD32"/>
<rect x="100" y="95.0" width="1" height="53.0" fill="#32CD32"/>
<rect x="95" y="100.0" width="11" height="44.0" fill="#32CD32"/>
<rect x="116" y="130.0" width="1" height="39.0" fill="#32CD32"/>
<rect x="111" y="142.0" width="11" height="26.0" fill="#32CD32"/>
<rect x="132" y="155.0" width="1" height="47.0" fill="#32CD32"/>
<rect x="127" y="167.0" width="11" height="33.0" fill="#32CD32"/>
<rect x="148" y="193.0" width="1" height="64.0" fill="#32CD32"/>
<rect x="143" y="199.0" width="11" height="23.0" fill="#32CD32"/>
<rect x="164" y="217.0" width="1" height="42.0" fill="#32CD32"/>
<rect x="159" y="222.0" width="11" height="31.0" fill="#32CD32"/>
<rect x="180" y="247.0" width="1" height="14.0" fill="#32CD32"/>
<rect x="175" y="252.0" width="11" height="7.0" fill="#32CD32"/>
<rect x="196" y="250.0" width="1" height="64.0" fill="#32CD32"/>
<rect x="191" y="262.0" width="11" height="48.0" fill="#32CD32"/>
<rect x="212" y="279.0" width="1" height="51.0" fill="#FF0000"/>
<rect x="207.5" y="284.5" width="10" height="25.0" fill="#FF4500" stroke="#FF0000" stroke-width="1"/>
<rect x="228" y="237.0" width="1" height="68.0" fill="#32CD32"/>
<rect x="223" y="284.0" width="11" height="14.0" fill="#32CD32"/>
<rect x="244" y="272.0" width="1" height="66.0" fill="#32CD32"/>
<rect x="239" y="297.0" width="11" height="13.0" fill="#32CD32"/>
<rect x="260" y="280.0" width="1" height="75.0" fill="#32CD32"/>
<rect x="255" y="308.0" width="11" height="16.0" fill="#32CD32"/>
<rect x="276" y="276.0" width="1" height="50.0" fill="#FF0000"/>
<rect x="271.5" y="288.5" width="10" height="34.0" fill="#FF4500" stroke="#FF0000" stroke-width="1"/>
<rect x="292" y="246.0" width="1" height="49.0" fill="#FF0000"/>
<rect x="287.5" y="275.5" width="10" height="18.0" fill="#FF4500" stroke="#FF0000" stroke-width="1"/>
<rect x="308" y="240.0" width="1" height="70.0" fill="#FF0000"/>
<rect x="303.5" y="246.5" width="10" height="29.0" fill="#FF4500" stroke="#FF0000" stroke-width="1"/>
<rect x="324" y="219.0" width="1" height="42.0" fill="#FF0000"/>
<rect x="319.5" y="229.5" width="10" height="17.0" fill="#FF4500" stroke="#FF0000" stroke-width="1"/>
<rect x="340" y="205.0" width="1" height="56.0" fill="#32CD32"/>
<rect x="335" y="229.0" width="11" height="3.0" fill="#32CD32"/>
<rect x="356" y="222.0" width="1" height="44.0" fill="#32CD32"/>
<rect x="351" y="231.0" width="11" height="9.0" fill="#32CD32"/>
<rect x="372" y="223.0" width="1" height="30.0" fill="#32CD32"/>
<rect x="367" y="239.0" width="11" height="4.0" fill="#32CD32"/>
<rect x="388" y="209.0" width="1" height="37.0" fill="#FF0000"/>
<rect x="383.5" y="232.5" width="10" height="11.0" fill="#FF4500" stroke="#FF0000" stroke-width="1"/>
<rect x="404" y="201.0" width="1" height="43.0" fill="#FF0000"/>
<rect x="399.5" y="218.5" width="10" height="14.0" fill="#FF4500" stroke="#FF0000" stroke-width="1"/>
<rect x="420" y="170.0" width="1" height="54.0" fill="#FF0000"/>
<rect x="415.5" y="194.5" width="10" height="25.0" fill="#FF4500" stroke="#FF0000" stroke-width="1"/>
<rect x="436" y="153.0" width="1" height="66.0" fill="#FF0000"/>
<rect x="431.5" y="188.5" width="10" height="6.0" fill="#FF4500" stroke="#FF0000" stroke-width="1"/>
<rect x="452" y="164.0" width="1" height="62.0" fill="#32CD32"/>
<rect x="447" y="188.0" width="11" height="2.0" fill="#32CD32"/>
<rect x="468" y="186.0" width="1" height="38.0" fill="#32CD32"/>
<rect x="463" y="188.0" width="11" height="33.0" fill="#32CD32"/>
<rect x="484" y="195.0" width="1" height="79.0" fill="#32CD32"/>
<rect x="479" y="198.0" width="11" height="61.0" fill="#32CD32"/>
<rect x="500" y="236.0" width="1" height="56.0" fill="#32CD32"/>
<rect x="495" y="258.0" width="11" height="18.0" fill="#32CD32"/>
<rect x="516" y="257.0" width="1" height="42.0" fill="#FF0000"/>
<rect x="511.5" y="263.5" width="10" height="13.0" fill="#FF4500" stroke="#FF0000" stroke-width="1"/>
<rect x="532" y="255.0" width="1" height="105.0" fill="#32CD32"/>
<rect x="527" y="264.0" width="11" height="94.0" fill="#32CD32"/>
<rect x="548" y="347.0" width="1" height="71.0" fill="#FF0000"/>
<rect x="543.5" y="352.5" width="10" height="4.0" fill="#FF4500" stroke="#FF0000" stroke-width="1"/>
<rect x="564" y="341.0" width="1" height="16.0" fill="#FF0000"/>
<rect x="559.5" y="345.5" width="10" height="7.0" fill="#FF4500" stroke="#FF0000" stroke-width="1"/>
<rect x="580" y="328.0" width="1" height="41.0" fill="#32CD32"/>
<rect x="575" y="354.0" width="11" height="11.0" fill="#32CD32"/>
<rect x="596" y="289.0" width="1" height="79.0" fill="#FF0000"/>
<rect x="591.5" y="309.5" width="10" height="55.0" fill="#FF4500" stroke="#FF0000" stroke-width="1"/>
<rect x="612" y="268.0" width="1" height="44.0" fill="#FF0000"/>
<rect x="607.5" y="273.5" width="10" height="35.0" fill="#FF4500" stroke="#FF0000" stroke-width="1"/>
<rect x="628" y="241.0" width="1" height="49.0" fill="#32CD32"/>
<rect x="623" y="273.0" width="11" height="7.0" fill="#32CD32"/>
<rect x="644" y="234.0" width="1" height="53.0" fill="#FF0000"/>
<rect x="639.5" y="254.5" width="10" height="25.0" fill="#FF4500" stroke="#FF0000" stroke-width="1"/>
<rect x="660" y="252.0" width="1" height="16.0" fill="#32CD32"/>
<rect x="655" y="254.0" width="11" height="8.0" fill="#32CD32"/>
<rect x="676" y="218.0" width="1" height="45.0" fill="#FF0000"/>
<rect x="671.5" y="242.5" width="10" height="12.0" fill="#FF4500" stroke="#FF0000" stroke-width="1"/>
<rect x="692" y="216.0" width="1" height="41.0" fill="#FF0000"/>
<rect x="687.5" y="232.5" width="10" height="10.0" fill="#FF4500" stroke="#FF0000" stroke-width="1"/>
<rect x="708" y="211.0" width="1" height="34.0" fill="#FF0000"/>
<rect x="703.5" y="225.5" width="10" height="7.0" fill="#FF4500" stroke="#FF0000" stroke-width="1"/>
<rect x="724" y="121.0" width="1" height="111.0" fill="#FF0000"/>
<rect x="719.5" y="216.5" width="10" height="10.0" fill="#FF4500" stroke="#FF0000" stroke-width="1"/>
<rect x="740" y="184.0" width="1" height="128.0" fill="#32CD32"/>
<rect x="735" y="217.0" width="11" height="86.0" fill="#32CD32"/>
<rect x="756" y="285.0" width="1" height="19.0" fill="#FF0000"/>
<rect x="751.5" y="289.5" width="10" height="12.0" fill="#FF4500" stroke="#FF0000" stroke-width="1"/>
<rect x="772" y="249.0" width="1" height="46.0" fill="#FF0000"/>
<rect x="767.5" y="259.5" width="10" height="28.0" fill="#FF4500" stroke="#FF0000" stroke-width="1"/>
<rect x="788" y="254.0" width="1" height="53.0" fill="#32CD32"/>
<rect x="783" y="259.0" width="11" height="47.0" fill="#32CD32"/>
<rect x="804" y="288.0" width="1" height="58.0" fill="#32CD32"/>
<rect x="799" y="305.0" width="11" height="32.0" fill="#32CD32"/>
<rect x="820" y="318.0" width="1" height="60.0" fill="#32CD32"/>
<rect x="815" y="336.0" width="11" height="18.0" fill="#32CD32"/>
<rect x="836" y="341.0" width="1" height="41.0" fill="#32CD32"/>
<rect x="831" y="352.0" width="11" height="11.0" fill="#32CD32"/>
<rect x="852" y="358.0" width="1" height="19.0" fill="#32CD32"/>
<rect x="847" y="362.0" width="11" height="14.0" fill="#32CD32"/>
<rect x="868" y="337.0" width="1" height="46.0" fill="#32CD32"/>
<rect x="863" y="368.0" width="11" height="14.0" fill="#32CD32"/>
<rect x="884" y="376.0" width="1" height="34.0" fill="#32CD32"/>
<rect x="879" y="381.0" width="11" height="26.0" fill="#32CD32"/>
<rect x="900" y="374.0" width="1" height="34.0" fill="#FF0000"/>
<rect x="895.5" y="387.5" width="10" height="19.0" fill="#FF4500" stroke="#FF0000" stroke-width="1"/>
<rect x="679" y="212" width="285" height="2" fill="#ff2020"/>
<rect x="732" y="311" width="234" height="2" fill="#96c410"/>
<rect x="550" y="417" width="432" height="2" fill="#2082e0"/>
</g>
<g>
<rect x="4" y="447" width="2" height="5.6" fill="#c0c0c0"/>
<rect x="19" y="447" width="3" height="4.0" fill="#c0c0c0"/>
<rect x="35" y="447" width="3" height="2.0" fill="#c0c0c0"/>
<rect x="51" y="442.6" width="3" height="4.4" fill="#c0c0c0"/>
<rect x="67" y="440.0" width="3" height="7.0" fill="#c0c0c0"/>
<rect x="83" y="434.0" width="3" height="13.0" fill="#c0c0c0"/>
<rect x="99" y="441.8" width="3" height="5.2" fill="#c0c0c0"/>
<rect x="115" y="442.6" width="3" height="4.4" fill="#c0c0c0"/>
<rect x="131" y="444.0" width="3" height="3.0" fill="#c0c0c0"/>
<rect x="147" y="447" width="3" height="4.0" fill="#c0c0c0"/>
<rect x="163" y="447" width="3" height="11.7" fill="#c0c0c0"/>
<rect x="179" y="447" width="3" height="18.9" fill="#c0c0c0"/>
<rect x="195" y="447" width="3" height="28.8" fill="#c0c0c0"/>
<rect x="211" y="447" width="3" height="34.0" fill="#c0c0c0"/>
<rect x="227" y="447" width="3" height="38.7" fill="#c0c0c0"/>
<rect x="243" y="447" width="3" height="42.6" fill="#c0c0c0"/>
<rect x="259" y="447" width="3" height="46.6" fill="#c0c0c0"/>
<rect x="275" y="447" width="3" height="46.6" fill="#c0c0c0"/>
<rect x="291" y="447" width="3" height="44.6" fill="#c0c0c0"/>
<rect x="307" y="447" width="3" height="39.6" fill="#c0c0c0"/>
<rect x="323" y="447" width="3" height="33.9" fill="#c0c0c0"/>
<rect x="339" y="447" width="3" height="29.7" fill="#c0c0c0"/>
<rect x="355" y="447" width="3" height="25.7" fill="#c0c0c0"/>
<rect x="371" y="447" width="3" height="24.0" fill="#c0c0c0"/>
<rect x="387" y="447" width="3" height="20.8" fill="#c0c0c0"/>
<rect x="403" y="447" width="3" height="17.0" fill="#c0c0c0"/>
<rect x="419" y="447" width="3" height="10.8" fill="#c0c0c0"/>
<rect x="435" y="447" width="3" height="5.8" fill="#c0c0c0"/>
<rect x="451" y="447" width="3" height="2.0" fill="#c0c0c0"/>
<rect x="467" y="447" width="3" height="2.0" fill="#c0c0c0"/>
<rect x="483" y="447" width="3" height="4.8" fill="#c0c0c0"/>
<rect x="499" y="447" width="3" height="8.6" fill="#c0c0c0"/>
<rect x="515" y="447" width="3" height="11.8" fill="#c0c0c0"/>
<rect x="531" y="447" width="3" height="22.0" fill="#c0c0c0"/>
<rect x="547" y="447" width="3" height="29.0" fill="#c0c0c0"/>
<rect x="563" y="447" width="3" height="33.9" fill="#c0c0c0"/>
<rect x="579" y="447" width="3" height="38.9" fill="#c0c0c0"/>
<rect x="595" y="447" width="3" height="37.9" fill="#c0c0c0"/>
<rect x="611" y="447" width="3" height="32.7" fill="#c0c0c0"/>
<rect x="627" y="447" width="3" height="29.0" fill="#c0c0c0"/>
<rect x="643" y="447" width="3" height="22.7" fill="#c0c0c0"/>
<rect x="659" y="447" width="3" height="18.5" fill="#c0c0c0"/>
<rect x="675" y="447" width="3" height="13.5" fill="#c0c0c0"/>
<rect x="691" y="447" width="3" height="8.6" fill="#c0c0c0"/>
<rect x="707" y="447" width="3" height="4.8" fill="#c0c0c0"/>
<rect x="723" y="446.0" width="3" height="1.0" fill="#c0c0c0"/>
<rect x="739" y="447" width="3" height="4.8" fill="#c0c0c0"/>
<rect x="755" y="447" width="3" height="6.6" fill="#c0c0c0"/>
<rect x="771" y="447" width="3" height="5.8" fill="#c0c0c0"/>
<rect x="787" y="447" width="3" height="8.6" fill="#c0c0c0"/>
<rect x="803" y="447" width="3" height="13.5" fill="#c0c0c0"/>
<rect x="819" y="447" width="3" height="19.5" fill="#c0c0c0"/>
<rect x="835" y="447" width="3" height="24.5" fill="#c0c0c0"/>
<rect x="851" y="447" width="3" height="29.7" fill="#c0c0c0"/>
<rect x="867" y="447" width="3" height="33.9" fill="#c0c0c0"/>
<rect x="883" y="447" width="3" height="39.6" fill="#c0c0c0"/>
<rect x="899" y="447" width="3" height="40.6" fill="#c0c0c0"/>
<path fill="#ff0000" shape-rendering="crispEdges" d="M124 442h37v1h-37zM117 443h7v1h-7zM161 443h8v1h-8zM109 444h8v1h-8zM169 444h8v1h-8zM102 445h7v1h-7zM177 445h6v1h-6zM96 446h6v1h-6zM183 446h6v1h-6zM91 447h5v1h-5zM189 447h7v1h-7zM85 448h6v1h-6zM196 448h3v1h-3zM80 449h5v1h-5zM199 449h3v1h-3zM75 450h5v1h-5zM202 450h2v1h-2zM70 451h5v1h-5zM204 451h3v1h-3zM64 452h6v1h-6zM207 452h3v1h-3zM57 453h7v1h-7zM210 453h3v1h-3zM50 454h7v1h-7zM213 454h2v1h-2zM782 454h44v1h-44zM4 455h4v1h-4zM44 455h6v1h-6zM215 455h3v1h-3zM510 455h29v1h-29zM773 455h9v1h-9zM826 455h7v1h-7zM8 456h36v1h-36zM218 456h3v1h-3zM501 456h9v1h-9zM539 456h7v1h-7zM764 456h9v1h-9zM833 456h7v1h-7zM221 457h3v1h-3zM492 457h9v1h-9zM546 457h6v1h-6zM758 457h6v1h-6zM840 457h4v1h-4zM223 458h3v1h-3zM485 458h7v1h-7zM552 458h6v1h-6zM753 458h5v1h-5zM844 458h5v1h-5zM226 459h3v1h-3zM477 459h8v1h-8zM558 459h5v1h-5zM747 459h6v1h-6zM849 459h5v1h-5zM229 460h3v1h-3zM469 460h8v1h-8zM563 460h6v1h-6zM742 460h5v1h-5zM854 460h4v1h-4zM232 461h2v1h-2zM465 461h5v1h-5zM569 461h5v1h-5zM737 461h5v1h-5zM858 461h4v1h-4zM234 462h3v1h-3zM460 462h5v1h-5zM574 462h4v1h-4zM733 462h4v1h-4zM862 462h4v1h-4zM237 463h3v1h-3zM456 463h4v1h-4zM578 463h4v1h-4zM728 463h5v1h-5zM866 463h4v1h-4zM240 464h2v1h-2zM451 464h5v1h-5zM582 464h4v1h-4zM724 464h4v1h-4zM870 464h4v1h-4zM242 465h3v1h-3zM447 465h4v1h-4zM586 465h4v1h-4zM720 465h4v1h-4zM874 465h4v1h-4zM245 466h3v1h-3zM443 466h4v1h-4zM590 466h4v1h-4zM716 466h4v1h-4zM878 466h5v1h-5zM248 467h2v1h-2zM440 467h3v1h-3zM594 467h4v1h-4zM712 467h4v1h-4zM883 467h5v1h-5zM250 468h3v1h-3zM436 468h4v1h-4zM598 468h5v1h-5zM708 468h4v1h-4zM888 468h5v1h-5zM253 469h3v1h-3zM432 469h4v1h-4zM603 469h6v1h-6zM704 469h4v1h-4zM893 469h5v1h-5zM256 470h2v1h-2zM429 470h3v1h-3zM609 470h6v1h-6zM701 470h3v1h-3zM898 470h3v1h-3zM258 471h3v1h-3zM425 471h4v1h-4zM615 471h6v1h-6zM697 471h4v1h-4zM261 472h3v1h-3zM421 472h4v1h-4zM621 472h6v1h-6zM693 472h4v1h-4zM264 473h2v1h-2zM418 473h3v1h-3zM627 473h7v1h-7zM688 473h5v1h-5zM266 474h3v1h-3zM414 474h4v1h-4zM634 474h7v1h-7zM682 474h6v1h-6zM269 475h3v1h-3zM410 475h4v1h-4zM641 475h12v1h-12zM671 475h11v1h-11zM272 476h3v1h-3zM406 476h4v1h-4zM653 476h18v1h-18zM275 477h4v1h-4zM403 477h3v1h-3zM279 478h5v1h-5zM399 478h4v1h-4zM284 479h4v1h-4zM394 479h5v1h-5zM288 480h4v1h-4zM389 480h5v1h-5zM292 481h5v1h-5zM383 481h6v1h-6zM297 482h4v1h-4zM378 482h5v1h-5zM301 483h4v1h-4zM373 483h5v1h-5zM305 484h4v1h-4zM362 484h11v1h-11zM309 485h9v1h-9zM350 485h12v1h-12zM318 486h32v1h-32z"/>
</g>
<line x1="5" x2="1166" y1="525.5" y2="525.5" stroke="#c0c0c0" stroke-width="1" stroke-dasharray="3,3"/>
<line x1="5" x2="1166" y1="558.5" y2="558.5" stroke="#c0c0c0" stroke-width="1" stroke-dasharray="3,3"/>
<path fill="#1e90ff" shape-rendering="crispEdges" d="M50 533h18v1h-18zM48 534h2v1h-2zM68 534h6v1h-6zM45 535h3v1h-3zM74 535h5v1h-5zM424 535h22v1h-22zM713 535h12v1h-12zM43 536h2v1h-2zM79 536h6v1h-6zM417 536h7v1h-7zM446 536h8v1h-8zM699 536h14v1h-14zM725 536h1v1h-1zM4 537h2v1h-2zM40 537h3v1h-3zM85 537h4v1h-4zM413 537h4v1h-4zM454 537h3v1h-3zM686 537h13v1h-13zM726 537h2v1h-2zM6 538h6v1h-6zM37 538h3v1h-3zM89 538h4v1h-4zM409 538h4v1h-4zM457 538h4v1h-4zM675 538h11v1h-11zM728 538h1v1h-1zM12 539h6v1h-6zM26 539h11v1h-11zM93 539h4v1h-4zM404 539h5v1h-5zM461 539h3v1h-3zM668 539h7v1h-7zM729 539h1v1h-1zM18 540h8v1h-8zM97 540h5v1h-5zM397 540h8v1h-8zM464 540h4v1h-4zM641 540h14v1h-14zM662 540h6v1h-6zM730 540h2v1h-2zM102 541h5v1h-5zM390 541h7v1h-7zM468 541h3v1h-3zM636 541h5v1h-5zM655 541h7v1h-7zM732 541h1v1h-1zM769 541h5v1h-5zM107 542h5v1h-5zM320 542h29v1h-29zM383 542h7v1h-7zM471 542h2v1h-2zM631 542h5v1h-5zM733 542h1v1h-1zM765 542h4v1h-4zM774 542h3v1h-3zM112 543h5v1h-5zM313 543h7v1h-7zM349 543h14v1h-14zM376 543h7v1h-7zM473 543h3v1h-3zM610 543h21v1h-21zM734 543h1v1h-1zM761 543h4v1h-4zM777 543h2v1h-2zM117 544h5v1h-5zM307 544h6v1h-6zM363 544h13v1h-13zM476 544h2v1h-2zM606 544h4v1h-4zM735 544h2v1h-2zM758 544h3v1h-3zM779 544h3v1h-3zM122 545h4v1h-4zM303 545h4v1h-4zM478 545h3v1h-3zM601 545h5v1h-5zM737 545h1v1h-1zM752 545h6v1h-6zM782 545h3v1h-3zM126 546h5v1h-5zM298 546h5v1h-5zM481 546h2v1h-2zM597 546h4v1h-4zM738 546h1v1h-1zM744 546h8v1h-8zM785 546h2v1h-2zM131 547h6v1h-6zM293 547h5v1h-5zM483 547h5v1h-5zM512 547h5v1h-5zM595 547h2v1h-2zM739 547h5v1h-5zM787 547h5v1h-5zM137 548h6v1h-6zM288 548h5v1h-5zM488 548h5v1h-5zM507 548h5v1h-5zM517 548h2v1h-2zM593 548h2v1h-2zM792 548h5v1h-5zM143 549h7v1h-7zM281 549h7v1h-7zM493 549h5v1h-5zM502 549h5v1h-5zM519 549h2v1h-2zM592 549h1v1h-1zM797 549h5v1h-5zM150 550h5v1h-5zM275 550h6v1h-6zM498 550h4v1h-4zM521 550h1v1h-1zM590 550h2v1h-2zM802 550h9v1h-9zM155 551h6v1h-6zM272 551h3v1h-3zM522 551h2v1h-2zM589 551h1v1h-1zM811 551h15v1h-15zM161 552h21v1h-21zM269 552h3v1h-3zM524 552h2v1h-2zM587 552h2v1h-2zM826 552h18v1h-18zM182 553h4v1h-4zM209 553h11v1h-11zM267 553h2v1h-2zM526 553h1v1h-1zM585 553h2v1h-2zM844 553h15v1h-15zM897 553h4v1h-4zM186 554h5v1h-5zM203 554h6v1h-6zM220 554h18v1h-18zM264 554h3v1h-3zM527 554h2v1h-2zM584 554h1v1h-1zM859 554h12v1h-12zM892 554h5v1h-5zM191 555h4v1h-4zM197 555h6v1h-6zM238 555h18v1h-18zM261 555h3v1h-3zM529 555h2v1h-2zM554 555h15v1h-15zM582 555h2v1h-2zM871 555h9v1h-9zM887 555h5v1h-5zM195 556h2v1h-2zM256 556h5v1h-5zM531 556h23v1h-23zM569 556h7v1h-7zM581 556h1v1h-1zM880 556h7v1h-7zM576 557h5v1h-5z"/>
<rect x="3" y="30" width="1164" height="1" fill="#000"/><rect x="3" y="427" width="1164" height="1" fill="#000"/><rect x="3" y="30" width="1" height="398" fill="#000"/><rect x="1166" y="30" width="1" height="398" fill="#000"/>
<rect x="3" y="429" width="1164" height="1" fill="#000"/><rect x="3" y="497" width="1164" height="1" fill="#000"/><rect x="3" y="429" width="1" height="69" fill="#000"/><rect x="1166" y="429" width="1" height="69" fill="#000"/>
<rect x="3" y="499" width="1164" height="1" fill="#000"/><rect x="3" y="583" width="1164" height="1" fill="#000"/><rect x="3" y="499" width="1" height="85" fill="#000"/><rect x="1166" y="499" width="1" height="85" fill="#000"/>
<rect x="1167" y="61" width="2" height="1" fill="#000"/>
<rect x="1167" y="94" width="2" height="1" fill="#000"/>
<rect x="1167" y="127" width="2" height="1" fill="#000"/>
<rect x="1167" y="160" width="2" height="1" fill="#000"/>
<rect x="1167" y="193" width="2" height="1" fill="#000"/>
<rect x="1167" y="226" width="2" height="1" fill="#000"/>
<rect x="1167" y="259" width="2" height="1" fill="#000"/>
<rect x="1167" y="292" width="2" height="1" fill="#000"/>
<rect x="1167" y="325" width="2" height="1" fill="#000"/>
<rect x="1167" y="358" width="2" height="1" fill="#000"/>
<rect x="1167" y="391" width="2" height="1" fill="#000"/>
<rect x="1167" y="424" width="2" height="1" fill="#000"/>
<rect x="1167" y="431" width="2" height="1" fill="#000"/>
<rect x="1167" y="447" width="2" height="1" fill="#000"/>
<rect x="1167" y="525" width="2" height="1" fill="#000"/>
<rect x="1167" y="558" width="2" height="1" fill="#000"/>
<rect x="1167" y="501" width="2" height="1" fill="#000"/>
<rect x="1167" y="582" width="2" height="1" fill="#000"/>
<rect x="4" y="584" width="1" height="3" fill="#000"/>
<rect x="68" y="584" width="1" height="3" fill="#000"/>
<rect x="132" y="584" width="1" height="3" fill="#000"/>
<rect x="196" y="584" width="1" height="3" fill="#000"/>
<rect x="260" y="584" width="1" height="3" fill="#000"/>
<rect x="324" y="584" width="1" height="3" fill="#000"/>
<rect x="388" y="584" width="1" height="3" fill="#000"/>
<rect x="452" y="584" width="1" height="3" fill="#000"/>
<rect x="516" y="584" width="1" height="3" fill="#000"/>
<rect x="580" y="584" width="1" height="3" fill="#000"/>
<rect x="644" y="584" width="1" height="3" fill="#000"/>
<rect x="708" y="584" width="1" height="3" fill="#000"/>
<rect x="772" y="584" width="1" height="3" fill="#000"/>
<rect x="836" y="584" width="1" height="3" fill="#000"/>
<rect x="900" y="584" width="1" height="3" fill="#000"/>
</svg>
<div id="pw"></div>
<div id="tri"></div>
<div id="sell"></div><div id="buy"></div><div id="sl"></div><div id="bl"></div>
<div class="ul" style="left:11px;width:44px"></div><div class="ul" style="left:178px;width:44px"></div>
<div id="spin"></div><div class="sb" style="left:63px"></div><div class="sb" style="left:151px;border-right:none;border-left:1px solid #c0c0c0;width:18.5px"></div>
<svg width="10" height="6" style="position:absolute;left:66.6px;top:58px"><path d="M1.5 1 L8 1 L4.75 4.6 Z" fill="#5a68a8"/></svg>
<svg width="10" height="6" style="position:absolute;left:156px;top:58px"><path d="M1.5 4.6 L8 4.6 L4.75 1 Z" fill="#5a68a8"/></svg>
<div class="t" style="left:19.40px;top:55.00px;font-size:11.60px;line-height:15px;letter-spacing:-0.86px;color:#fff;">SELL</div><div class="t" style="left:187.60px;top:55.00px;font-size:11.60px;line-height:15px;letter-spacing:-0.28px;color:#fff;">BUY</div><div class="t" style="left:123.00px;top:55.00px;font-size:11.50px;line-height:15px;letter-spacing:0.54px;">5.00</div><div class="t" style="left:27.40px;top:94.00px;font-size:11.60px;line-height:15px;letter-spacing:0.51px;color:#fff;font-weight:bold;">1.12</div><div class="t" style="left:137.40px;top:94.00px;font-size:11.60px;line-height:15px;letter-spacing:0.51px;color:#fff;font-weight:bold;">1.12</div><div class="bg" style="left:53px">03</div><div class="bg" style="left:163.7px">05</div><div class="t" style="left:94.00px;top:77.00px;font-size:12.00px;line-height:16px;color:#fff;font-weight:bold;">1</div><div class="t" style="left:205.50px;top:77.00px;font-size:12.00px;line-height:16px;color:#fff;font-weight:bold;">0</div>
<div id="pbox"></div>
<div class="t" style="left:0.30px;top:9.00px;font-size:9.70px;line-height:13px;color:#3a3a3a;">5</div><div class="t" style="left:15.60px;top:9.00px;font-size:9.70px;line-height:13px;letter-spacing:-0.64px;color:#3a3a3a;">M30</div><div class="t" style="left:46.70px;top:9.00px;font-size:9.70px;line-height:13px;letter-spacing:-1.00px;color:#3a3a3a;">H1</div><div class="t" style="left:73.60px;top:9.00px;font-size:9.70px;line-height:13px;letter-spacing:-0.20px;color:#3a3a3a;">H4</div><div class="t" style="left:102.70px;top:9.00px;font-size:9.70px;line-height:13px;letter-spacing:-0.80px;color:#3a3a3a;">D1</div><div class="t" style="left:130.00px;top:9.00px;font-size:9.70px;line-height:13px;letter-spacing:-0.15px;color:#3a3a3a;">W1</div><div class="t" style="left:156.50px;top:9.00px;font-size:9.70px;line-height:13px;letter-spacing:-0.39px;color:#3a3a3a;">MN</div><div class="t" style="left:19.30px;top:33.00px;font-size:9.40px;line-height:12px;letter-spacing:-0.05px;">EURUSD,Daily</div><div class="t" style="left:89.30px;top:33.00px;font-size:9.40px;line-height:12px;letter-spacing:-0.06px;">1.11855 1.12154 1.11849 1.12031</div><div class="t" style="left:1172.20px;top:57.00px;font-size:9.50px;line-height:12px;letter-spacing:-0.34px;">1.15025</div><div class="t" style="left:1172.20px;top:90.00px;font-size:9.50px;line-height:12px;letter-spacing:-0.34px;">1.14725</div><div class="t" style="left:1172.20px;top:123.00px;font-size:9.50px;line-height:12px;letter-spacing:-0.34px;">1.14420</div><div class="t" style="left:1172.20px;top:156.00px;font-size:9.50px;line-height:12px;letter-spacing:-0.22px;">1.14115</div><div class="t" style="left:1172.20px;top:189.00px;font-size:9.50px;line-height:12px;letter-spacing:-0.34px;">1.13815</div><div class="t" style="left:1172.20px;top:222.00px;font-size:9.50px;line-height:12px;letter-spacing:-0.34px;">1.13510</div><div class="t" style="left:1172.20px;top:255.00px;font-size:9.50px;line-height:12px;letter-spacing:-0.34px;">1.13205</div><div class="t" style="left:1172.20px;top:288.00px;font-size:9.50px;line-height:12px;letter-spacing:-0.34px;">1.12905</div><div class="t" style="left:1172.20px;top:321.00px;font-size:9.50px;line-height:12px;letter-spacing:-0.34px;">1.12600</div><div class="t" style="left:1172.20px;top:354.00px;font-size:9.50px;line-height:12px;letter-spacing:-0.34px;">1.12295</div><div class="t" style="left:1172.20px;top:387.00px;font-size:9.50px;line-height:12px;letter-spacing:-0.22px;">1.11995</div><div class="t" style="left:1172.20px;top:420.00px;font-size:9.50px;line-height:12px;letter-spacing:-0.22px;">1.11690</div><div class="t" style="left:1170.30px;top:432.00px;font-size:9.50px;line-height:12px;letter-spacing:-0.30px;">0.001313</div><div class="t" style="left:1170.30px;top:443.00px;font-size:9.50px;line-height:12px;letter-spacing:-0.30px;">0.00</div><div class="t" style="left:1170.30px;top:486.00px;font-size:9.50px;line-height:12px;letter-spacing:-0.30px;">-0.003862</div><div class="t" style="left:1170.50px;top:502.00px;font-size:9.50px;line-height:12px;letter-spacing:-0.30px;">100</div><div class="t" style="left:1170.50px;top:521.00px;font-size:9.50px;line-height:12px;letter-spacing:-0.30px;">70</div><div class="t" style="left:1170.50px;top:554.00px;font-size:9.50px;line-height:12px;letter-spacing:-0.30px;">30</div><div class="t" style="left:1170.50px;top:572.00px;font-size:9.50px;line-height:12px;letter-spacing:-0.30px;">0</div><div class="t" style="left:3.00px;top:588.00px;font-size:9.60px;line-height:12px;letter-spacing:-0.36px;">28 Jan 2019</div><div class="t" style="left:67.00px;top:588.00px;font-size:9.60px;line-height:12px;letter-spacing:-0.36px;">1 Feb 2019</div><div class="t" style="left:131.00px;top:588.00px;font-size:9.60px;line-height:12px;letter-spacing:-0.36px;">6 Feb 2019</div><div class="t" style="left:195.00px;top:588.00px;font-size:9.60px;line-height:12px;letter-spacing:-0.36px;">11 Feb 2019</div><div class="t" style="left:259.00px;top:588.00px;font-size:9.60px;line-height:12px;letter-spacing:-0.36px;">15 Feb 2019</div><div class="t" style="left:323.00px;top:588.00px;font-size:9.60px;line-height:12px;letter-spacing:-0.36px;">20 Feb 2019</div><div class="t" style="left:387.00px;top:588.00px;font-size:9.60px;line-height:12px;letter-spacing:-0.36px;">25 Feb 2019</div><div class="t" style="left:451.00px;top:588.00px;font-size:9.60px;line-height:12px;letter-spacing:-0.36px;">1 Mar 2019</div><div class="t" style="left:515.00px;top:588.00px;font-size:9.60px;line-height:12px;letter-spacing:-0.36px;">6 Mar 2019</div><div class="t" style="left:579.00px;top:588.00px;font-size:9.60px;line-height:12px;letter-spacing:-0.36px;">11 Mar 2019</div><div class="t" style="left:643.00px;top:588.00px;font-size:9.60px;line-height:12px;letter-spacing:-0.36px;">15 Mar 2019</div><div class="t" style="left:707.00px;top:588.00px;font-size:9.60px;line-height:12px;letter-spacing:-0.36px;">20 Mar 2019</div><div class="t" style="left:771.00px;top:588.00px;font-size:9.60px;line-height:12px;letter-spacing:-0.36px;">25 Mar 2019</div><div class="t" style="left:835.00px;top:588.00px;font-size:9.60px;line-height:12px;letter-spacing:-0.36px;">29 Mar 2019</div><div class="t" style="left:899.00px;top:588.00px;font-size:9.60px;line-height:12px;letter-spacing:-0.36px;">3 Apr 2019</div><div class="t" style="left:8.20px;top:434.00px;font-size:9.60px;line-height:12px;letter-spacing:-0.16px;">MACD(12,26,9) -0.003149 -0.001821</div><div class="t" style="left:8.20px;top:504.00px;font-size:9.60px;line-height:12px;letter-spacing:-0.17px;">RSI(14) 36.2086</div><div class="t" style="left:1172.20px;top:383.00px;font-size:9.50px;line-height:12px;letter-spacing:-0.34px;color:#fff;">1.12031</div>
<div id="bbar"></div><div id="bl0"></div><div id="bl00"></div><div id="bl1"></div><div id="bl2"></div><div id="bl3"></div><div id="ledge"></div>
<div id="atab"></div><div class="tabl" style="left:5px;top:606px;width:1px;height:19px"></div><div class="tabl" style="left:108px;top:606px;width:1px;height:19px"></div><div class="tabl" style="left:5px;top:624px;width:104px;height:1px"></div><div style="left:109px;top:607px;width:1px;height:19px;background:#d2d2d2"></div><div style="left:6px;top:625px;width:104px;height:1px;background:#d2d2d2"></div>
<div class="t" style="left:17.20px;top:609.00px;font-size:12.50px;line-height:16px;letter-spacing:-0.37px;">EURUSD,Daily</div><div class="t" style="left:119.50px;top:609.00px;font-size:12.50px;line-height:16px;letter-spacing:-0.15px;color:#787878;">AUDUSD,H4</div><div class="t" style="left:210.30px;top:609.00px;font-size:12.50px;line-height:16px;letter-spacing:-0.20px;color:#787878;">USDCHF,Daily</div><div class="t" style="left:311.90px;top:609.00px;font-size:12.50px;line-height:16px;letter-spacing:-0.20px;color:#787878;">USDCAD,Daily</div><div class="t" style="left:415.10px;top:609.00px;font-size:12.50px;line-height:16px;letter-spacing:-0.12px;color:#787878;">USDCNH,Daily</div><div class="t" style="left:518.50px;top:609.00px;font-size:12.50px;line-height:16px;letter-spacing:-0.29px;color:#787878;">USDJPY,Daily</div><div class="t" style="left:615.50px;top:609.00px;font-size:12.50px;line-height:16px;letter-spacing:-0.26px;color:#787878;">XAUUSD,H1</div><div class="t" style="left:708.90px;top:609.00px;font-size:12.50px;line-height:16px;letter-spacing:-0.46px;color:#787878;">GBPUSD,H4</div><div class="t" style="left:800.50px;top:609.00px;font-size:12.50px;line-height:16px;letter-spacing:-0.08px;color:#787878;">SP500,M15</div><div class="t" style="left:889.10px;top:609.00px;font-size:12.50px;line-height:16px;letter-spacing:-0.36px;color:#787878;">GBPUSD,Daily</div><div class="t" style="left:990.50px;top:609.00px;font-size:12.50px;line-height:16px;letter-spacing:-0.11px;color:#787878;">DJ30,H4</div><div class="t" style="left:1059.00px;top:609.00px;font-size:12.50px;line-height:16px;letter-spacing:-0.38px;color:#787878;">TECH100,H1</div><div class="sp" style="left:201px"></div><div class="sp" style="left:301px"></div><div class="sp" style="left:405px"></div><div class="sp" style="left:509px"></div><div class="sp" style="left:605px"></div><div class="sp" style="left:697px"></div><div class="sp" style="left:789px"></div><div class="sp" style="left:877px"></div><div class="sp" style="left:981px"></div><div class="sp" style="left:1049px"></div><div class="sp" style="left:1141px"></div><div id="ukc"><div class="t" style="left:0.00px;top:0.00px;font-size:12.50px;line-height:16px;letter-spacing:-0.38px;color:#787878;">UKOIL,H1</div></div>
<div id="arl"></div><div id="arr"></div>
</body></html>
